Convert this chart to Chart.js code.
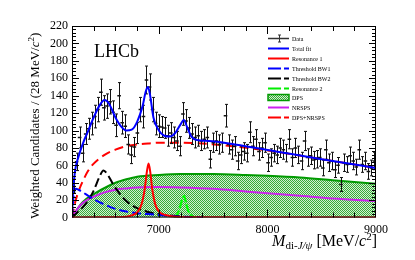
<!DOCTYPE html>
<html lang="en">
<head>
<meta charset="UTF-8">
<title>di-J/psi mass spectrum</title>
<script src="https://cdn.jsdelivr.net/npm/chart.js"></script>
<style>
  html, body { margin: 0; padding: 0; background: #fff; }
  #wrap { width: 415px; height: 260px; }
</style>
</head>
<body>
<div id="wrap"><canvas id="massChart" width="415" height="260"></canvas></div>
<script>
// binning of the spectrum (28 MeV bins from threshold)
const binStart = 6200;
const binWidth = 28;
const counts = [
  36, 64, 92, 74, 96, 102, 108, 116, 124, 144,
  126, 128, 133, 121, 106, 140, 109, 105, 84, 72,
  81, 97, 124, 116, 158, 150, 124, 108, 105, 104,
  103, 94, 97, 92, 88, 82, 119, 111, 103, 96,
  92, 94, 88, 90, 92, 67, 86, 88, 84, 86,
  117, 84, 78, 82, 65, 72, 76, 74, 98, 82,
  90, 76, 80, 86, 63, 69, 74, 72, 80, 78,
  74, 90, 69, 80, 72, 65, 88, 69, 71, 66,
  67, 69, 57, 78, 63, 65, 55, 60, 38, 63,
  61, 71, 65, 58, 78, 61, 65, 53, 57, 65
];
const errors = [
  8, 10, 12, 10, 12, 12, 13, 13, 14, 15,
  14, 14, 14, 13, 13, 15, 13, 13, 11, 10,
  11, 12, 14, 13, 16, 15, 14, 13, 13, 12,
  12, 12, 12, 12, 11, 11, 13, 13, 12, 12,
  12, 12, 11, 11, 12, 10, 11, 11, 11, 11,
  13, 11, 11, 11, 10, 10, 10, 10, 12, 11,
  11, 10, 11, 11, 10, 10, 10, 10, 11, 11,
  10, 11, 10, 11, 10, 10, 11, 10, 10, 10,
  10, 10, 9, 11, 10, 10, 9, 9, 8, 10,
  9, 10, 10, 9, 11, 9, 10, 9, 9, 10
];

// fit curves (mass in MeV, height in candidates)
const totalFitM = [6200, 6210, 6230, 6260, 6300, 6350, 6400, 6450, 6500, 6540, 6600, 6650, 6700, 6750, 6800, 6850, 6880, 6900, 6920, 6950, 7000, 7050, 7100, 7150, 7200, 7230, 7260, 7300, 7350, 7460, 7700, 8080, 8500, 9000];
const totalFitY = [0, 30, 55, 70, 85, 100, 115, 128, 135, 131, 115, 105, 100, 101, 110, 128, 145, 150, 140, 115, 100, 94, 93, 97, 107, 112, 104, 93, 89, 88, 84, 76, 67, 57];

const res1M = [6200, 6500, 6700, 6750, 6800, 6840, 6870, 6890, 6905, 6920, 6940, 6970, 7010, 7060, 7150, 7400, 9000];
const res1Y = [0, 0.3, 1, 2.5, 6, 15, 33, 53, 62, 53, 32, 14, 6, 3, 1, 0.3, 0];

const bw1M = [6200, 6215, 6235, 6260, 6300, 6350, 6400, 6500, 6600, 6700, 6800, 6900, 7000, 7100, 7200, 7400];
const bw1Y = [0, 25, 33, 32, 29, 25, 21, 15, 10, 7, 5, 4, 3, 2, 1, 0.5];

const bw2M = [6200, 6250, 6300, 6350, 6400, 6450, 6490, 6530, 6580, 6630, 6700, 6780, 6860, 6950, 7050, 7200];
const bw2Y = [0, 6, 12, 20, 31, 46, 54, 49, 38, 29, 19, 12, 8, 5, 3, 1.5];

const res2M = [7140, 7170, 7195, 7215, 7232, 7250, 7270, 7295, 7340];
const res2Y = [0, 4, 12, 21, 25, 17, 8, 3, 0];

const dpsM = [6200, 6250, 6300, 6400, 6500, 6600, 6700, 6800, 7000, 7200, 7500, 7800, 8000, 8300, 8600, 9000];
const dpsY = [0, 10, 18, 27, 34, 40, 44, 47, 49, 50, 50, 49, 48, 46, 43, 39];

const nrspsM = [6200, 6250, 6300, 6400, 6500, 6600, 6700, 6800, 7000, 7200, 7500, 7800, 8000, 8300, 8600, 9000];
const nrspsY = [0, 10, 17, 24, 29, 32, 33.5, 34.5, 35, 34.5, 33, 30, 28, 25, 22, 19];

const sumBkgM = [6200, 6230, 6260, 6300, 6350, 6400, 6500, 6600, 6700, 6800, 6900, 7000, 7200, 7400, 7600, 8000, 8500, 9000];
const sumBkgY = [0, 18, 30, 42, 54, 62, 72, 78, 82, 84, 85, 86, 86, 85, 83, 77, 67, 57];

const yTickValues = [0, 20, 40, 60, 80, 100, 120, 140, 160, 180, 200, 220];
const xTickLabels = [7000, 8000, 9000];

function zip(ms, ys) {
  return ms.map((m, i) => ({ x: m, y: ys[i] }));
}

const dataPoints = counts.map((c, i) => ({ x: binStart + binWidth * (i + 0.5), y: c }));

// checkered green fill like the ROOT hatch
function makeHatch() {
  const c = document.createElement('canvas');
  c.width = 2; c.height = 2;
  const g = c.getContext('2d');
  g.fillStyle = '#d2efd2';
  g.fillRect(0, 0, 2, 2);
  g.fillStyle = '#38aa38';
  g.fillRect(0, 0, 1, 1);
  g.fillRect(1, 1, 1, 1);
  return g.createPattern(c, 'repeat');
}
const hatch = makeHatch();

const SERIF = '"Liberation Serif", "DejaVu Serif", serif';
Chart.defaults.font.family = SERIF;
Chart.defaults.color = '#000';

function curve(label, ms, ys, color, dash, order, extra) {
  return Object.assign({
    label: label,
    data: zip(ms, ys),
    showLine: true,
    borderColor: color,
    borderWidth: 2,
    borderDash: dash,
    pointRadius: 0,
    cubicInterpolationMode: 'monotone',
    fill: false,
    order: order
  }, extra || {});
}

const datasets = [
  curve('Total fit', totalFitM, totalFitY, '#0000ff', [], 0),
  {
    label: 'Data',
    data: dataPoints,
    showLine: false,
    pointStyle: 'line',
    pointRadius: 1.8,
    borderColor: '#111',
    backgroundColor: '#111',
    borderWidth: 1.5,
    order: 1
  },
  curve('Resonance 1', res1M, res1Y, '#ff0000', [], 2),
  curve('Threshold BW1', bw1M, bw1Y, '#0000ff', [9, 4], 3),
  curve('Threshold BW2', bw2M, bw2Y, '#000000', [9, 4], 4),
  curve('Resonance 2', res2M, res2Y, '#00ff00', [9, 2], 5, { borderWidth: 2.2 }),
  curve('DPS+NRSPS', sumBkgM, sumBkgY, '#ff0000', [9, 5], 6),
  curve('NRSPS', nrspsM, nrspsY, '#cc22ee', [], 7),
  curve('DPS', dpsM, dpsY, '#009a00', [], 8, { fill: 'origin', backgroundColor: hatch })
];

const legendItems = [
  { text: 'Data', kind: 'data' },
  { text: 'Total fit', color: '#0000ff', dash: [] },
  { text: 'Resonance 1', color: '#ff0000', dash: [] },
  { text: 'Threshold BW1', color: '#0000ff', dash: [13, 3] },
  { text: 'Threshold BW2', color: '#000000', dash: [13, 3] },
  { text: 'Resonance 2', color: '#00ee00', dash: [13, 3] },
  { text: 'DPS', kind: 'box' },
  { text: 'NRSPS', color: '#cc22ee', dash: [] },
  { text: 'DPS+NRSPS', color: '#ff0000', dash: [13, 3] }
];

// draw a run of text pieces, each {t, font, dy}
function drawPieces(ctx, pieces, x, y) {
  let cx = x;
  pieces.forEach(p => {
    ctx.font = p.font;
    ctx.fillText(p.t, cx, y + (p.dy || 0));
    cx += ctx.measureText(p.t).width;
  });
  return cx;
}
function piecesWidth(ctx, pieces) {
  let w = 0;
  pieces.forEach(p => { ctx.font = p.font; w += ctx.measureText(p.t).width; });
  return w;
}

const errorBars = {
  id: 'errorBars',
  afterDatasetDraw(chart, args) {
    if (args.meta.label !== 'Data') return;
    const ctx = chart.ctx, x = chart.scales.x, y = chart.scales.y, a = chart.chartArea;
    ctx.save();
    ctx.beginPath();
    ctx.rect(a.left, a.top, a.right - a.left, a.bottom - a.top);
    ctx.clip();
    ctx.strokeStyle = '#111';
    ctx.lineWidth = 1;
    counts.forEach((c, i) => {
      const px = Math.round(x.getPixelForValue(binStart + binWidth * (i + 0.5))) + 0.5;
      const top = y.getPixelForValue(c + errors[i]);
      const bot = y.getPixelForValue(c - errors[i]);
      ctx.beginPath();
      ctx.moveTo(px, top); ctx.lineTo(px, bot);
      ctx.moveTo(px - 1.5, top); ctx.lineTo(px + 1.5, top);
      ctx.moveTo(px - 1.5, bot); ctx.lineTo(px + 1.5, bot);
      ctx.stroke();
    });
    ctx.restore();
  }
};

const rootFrame = {
  id: 'rootFrame',
  afterDraw(chart) {
    const ctx = chart.ctx, a = chart.chartArea, xs = chart.scales.x, ys = chart.scales.y;
    ctx.save();
    ctx.strokeStyle = '#000';
    ctx.lineWidth = 1;
    ctx.strokeRect(a.left + 0.5, a.top + 0.5, a.right - a.left - 1, a.bottom - a.top - 1);

    // inward ticks on all four sides
    ctx.beginPath();
    for (let v = ys.min + 4; v < ys.max; v += 4) {
      const py = Math.round(ys.getPixelForValue(v)) + 0.5;
      const len = v % 20 === 0 ? 7 : 4;
      ctx.moveTo(a.left, py); ctx.lineTo(a.left + len, py);
      ctx.moveTo(a.right, py); ctx.lineTo(a.right - len, py);
    }
    for (let m = xs.min + 200; m < xs.max; m += 200) {
      const px = Math.round(xs.getPixelForValue(m)) + 0.5;
      const len = m % 1000 === 0 ? 8 : 5;
      ctx.moveTo(px, a.bottom); ctx.lineTo(px, a.bottom - len);
      ctx.moveTo(px, a.top); ctx.lineTo(px, a.top + len);
    }
    ctx.stroke();

    // experiment label
    ctx.fillStyle = '#000';
    ctx.textBaseline = 'alphabetic';
    ctx.font = '18px ' + SERIF;
    ctx.fillText('LHCb', a.left + 22, a.top + 31);

    // legend
    const lx = a.left + 196, lw = 21, tx = a.left + 220;
    ctx.font = '6px ' + SERIF;
    legendItems.forEach((it, i) => {
      const ly = Math.round(a.top + 12 + i * 9.9) + 0.5;
      ctx.save();
      if (it.kind === 'data') {
        ctx.strokeStyle = '#333'; ctx.lineWidth = 1.5;
        ctx.beginPath(); ctx.moveTo(lx, ly); ctx.lineTo(lx + lw, ly); ctx.stroke();
        ctx.lineWidth = 1;
        const mx = Math.round(lx + lw / 2) + 0.5;
        ctx.beginPath();
        ctx.moveTo(mx, ly - 3.5); ctx.lineTo(mx, ly + 3.5);
        ctx.moveTo(mx - 1.5, ly - 3.5); ctx.lineTo(mx + 1.5, ly - 3.5);
        ctx.moveTo(mx - 1.5, ly + 3.5); ctx.lineTo(mx + 1.5, ly + 3.5);
        ctx.stroke();
      } else if (it.kind === 'box') {
        ctx.fillStyle = hatch;
        ctx.fillRect(lx, ly - 3, lw, 6);
        ctx.strokeStyle = '#009a00'; ctx.lineWidth = 1.5;
        ctx.strokeRect(lx, ly - 3, lw, 6);
      } else {
        ctx.strokeStyle = it.color; ctx.lineWidth = 2;
        ctx.setLineDash(it.dash);
        ctx.beginPath(); ctx.moveTo(lx, ly); ctx.lineTo(lx + lw, ly); ctx.stroke();
      }
      ctx.restore();
      ctx.fillStyle = '#000';
      ctx.textBaseline = 'middle';
      ctx.fillText(it.text, tx, ly + 0.5);
    });

    // y axis title
    ctx.textBaseline = 'alphabetic';
    const yt = [
      { t: 'Weighted Candidates / (28 MeV/', font: '13px ' + SERIF },
      { t: 'c', font: 'italic 13px ' + SERIF },
      { t: '2', font: '9px ' + SERIF, dy: -5 },
      { t: ')', font: '13px ' + SERIF }
    ];
    const yw = piecesWidth(ctx, yt);
    ctx.save();
    ctx.translate(a.left - 33, (a.top + a.bottom) / 2 + 4);
    ctx.rotate(-Math.PI / 2);
    drawPieces(ctx, yt, -yw / 2, 0);
    ctx.restore();

    // x axis title
    const xt = [
      { t: 'M', font: 'italic 16px ' + SERIF },
      { t: 'di-', font: '11px ' + SERIF, dy: 3 },
      { t: 'J/ψ', font: 'italic 11px ' + SERIF, dy: 3 },
      { t: ' [MeV/', font: '16px ' + SERIF },
      { t: 'c', font: 'italic 16px ' + SERIF },
      { t: '2', font: '11px ' + SERIF, dy: -6 },
      { t: ']', font: '16px ' + SERIF }
    ];
    const xw = piecesWidth(ctx, xt);
    drawPieces(ctx, xt, a.right + 1 - xw, a.bottom + 28);
    ctx.restore();
  }
};

new Chart(document.getElementById('massChart').getContext('2d'), {
  type: 'scatter',
  data: { datasets: datasets },
  plugins: [errorBars, rootFrame],
  options: {
    responsive: false,
    animation: false,
    devicePixelRatio: 1,
    layout: { padding: { left: 46, right: 39, top: 26, bottom: 18 } },
    plugins: { legend: { display: false }, tooltip: { enabled: false } },
    scales: {
      x: {
        type: 'linear',
        min: binStart,
        max: 9000,
        grid: { display: false, drawTicks: false },
        border: { display: false },
        afterBuildTicks: s => { s.ticks = xTickLabels.map(v => ({ value: v })); },
        ticks: {
          autoSkip: false,
          maxRotation: 0,
          padding: 5,
          font: { size: 12 },
          callback: v => String(v)
        }
      },
      y: {
        min: 0,
        max: 220,
        grid: { display: false, drawTicks: false },
        border: { display: false },
        afterBuildTicks: s => { s.ticks = yTickValues.map(v => ({ value: v })); },
        ticks: {
          autoSkip: false,
          padding: 4,
          font: { size: 12 },
          callback: v => String(v)
        }
      }
    }
  }
});
</script>
</body>
</html>
